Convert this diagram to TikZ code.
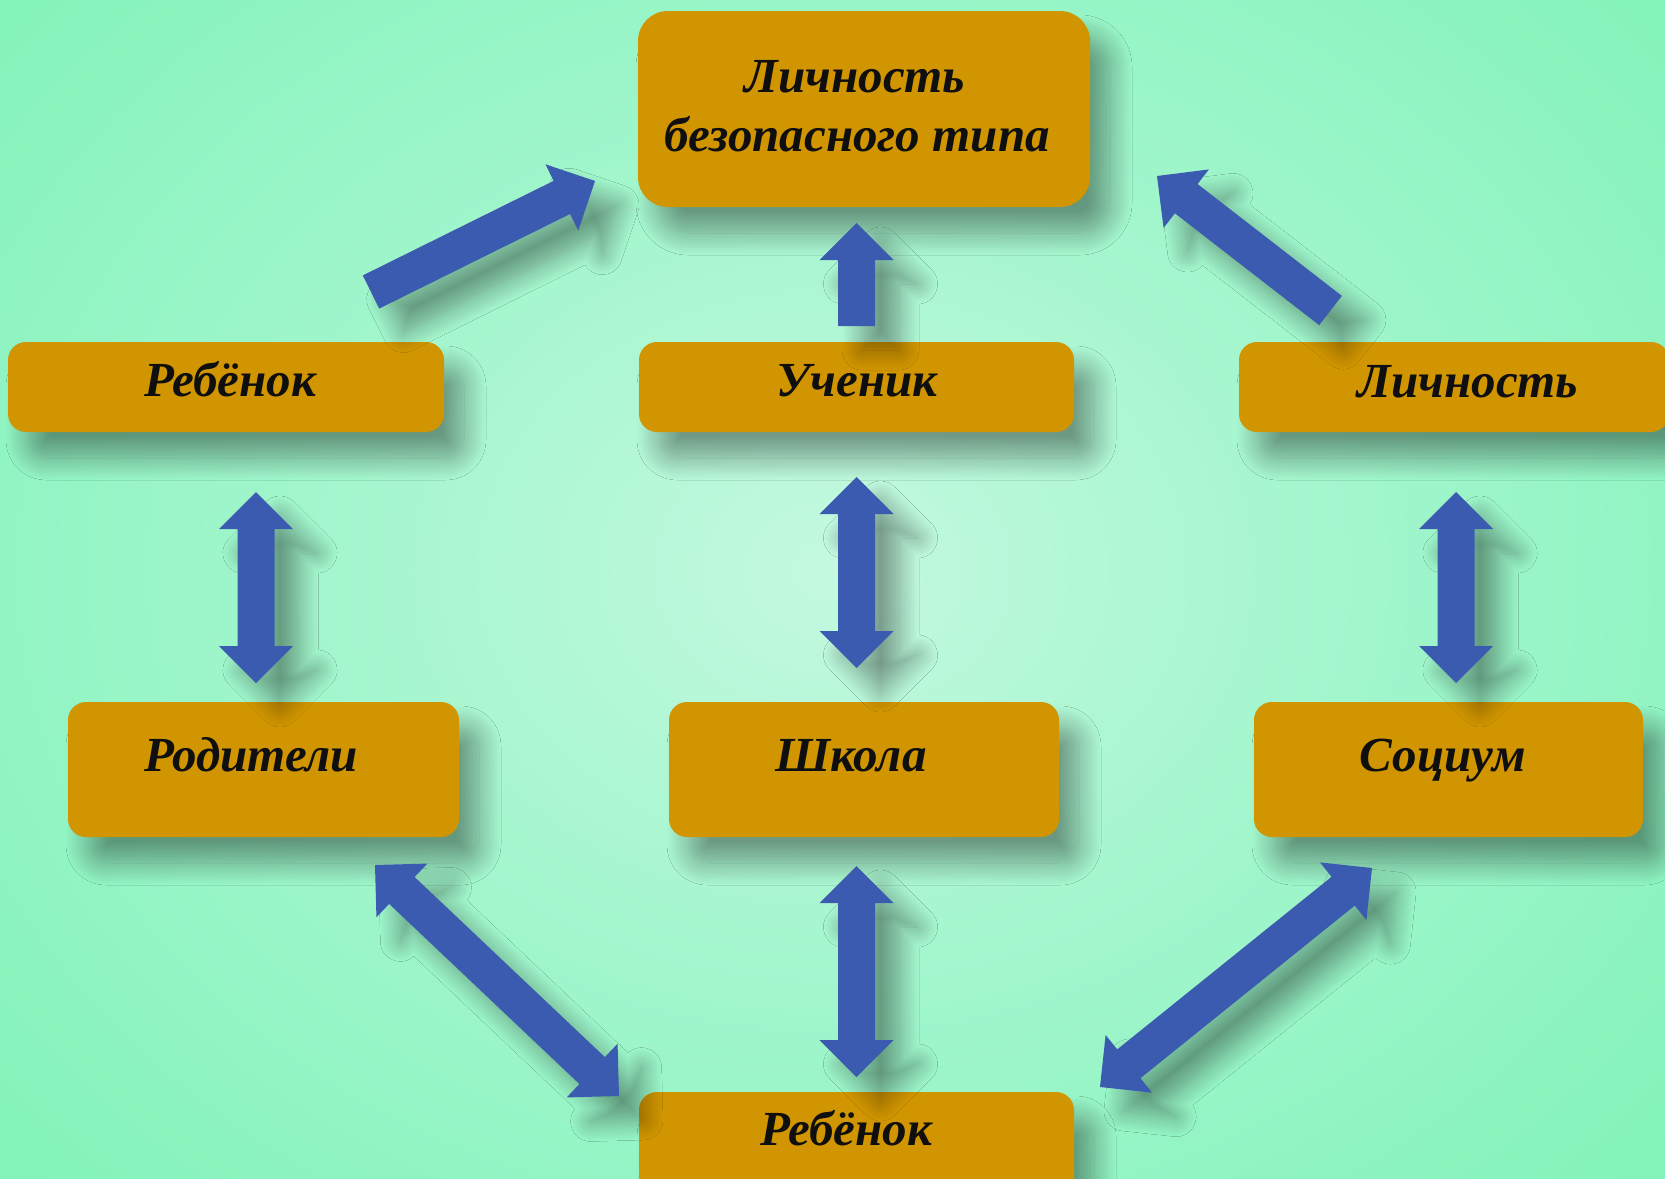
\documentclass[tikz,border=0pt]{standalone}
\usepackage{fontspec}
\setmainfont{Liberation Serif}
\usetikzlibrary{calc,shadows.blur}
\definecolor{boxc}{RGB}{208,149,0}
\definecolor{arrc}{RGB}{58,91,176}
\definecolor{bgin}{RGB}{196,249,224}
\definecolor{bgmid}{RGB}{165,246,206}
\definecolor{bgout}{RGB}{122,242,182}
\definecolor{bgcorner}{RGB}{90,238,162}
\definecolor{txt}{RGB}{15,15,15}
\pgfdeclareradialshading{bgshade}{\pgfpoint{0bp}{0bp}}{color(0bp)=(bgin); color(14bp)=(bgmid); color(38bp)=(bgout); color(62bp)=(bgcorner); color(72bp)=(bgcorner)}
\newcommand\blkarrow[2]{%
  \path ($(#2)!37pt!(#1)$) coordinate (hb);
  \fill[arr] ($(#1)!18.5pt!90:(#2)$) -- ($(hb)!18.5pt!-90:(#1)$) -- ($(hb)!37pt!-90:(#1)$) -- (#2)
    -- ($(hb)!37pt!90:(#1)$) -- ($(hb)!18.5pt!90:(#1)$) -- ($(#1)!18.5pt!-90:(#2)$) -- cycle;}
\newcommand\dblarrow[2]{%
  \path ($(#1)!37pt!(#2)$) coordinate (ha) ($(#2)!37pt!(#1)$) coordinate (hb);
  \fill[arr] (#1) -- ($(ha)!37pt!90:(#2)$) -- ($(ha)!18.5pt!90:(#2)$) -- ($(hb)!18.5pt!-90:(#1)$)
    -- ($(hb)!37pt!-90:(#1)$) -- (#2) -- ($(hb)!37pt!90:(#1)$) -- ($(hb)!18.5pt!90:(#1)$)
    -- ($(ha)!18.5pt!-90:(#2)$) -- ($(ha)!37pt!-90:(#2)$) -- cycle;}
\begin{document}
\begin{tikzpicture}[x=1pt,y=-1pt,
  box/.style={fill=boxc, draw=none, inner sep=0pt, rounded corners=18pt,
    blur shadow={shadow xshift=20pt, shadow yshift=-26pt, shadow blur radius=22pt, shadow blur steps=24, shadow opacity=38}},
  lbl/.style={font=\fontsize{49}{59}\selectfont\bfseries\itshape, anchor=base, inner sep=0pt, text=txt},
  arr/.style={fill=arrc, blur shadow={shadow xshift=24pt, shadow yshift=-24pt, shadow blur radius=20pt, shadow blur steps=24, shadow opacity=38}}]
\useasboundingbox (0,0) rectangle (1665,1178);
\clip (0,0) rectangle (1665,1178);
\shade[shading=bgshade] (-10,-100) rectangle (1675,1240);
% boxes
\node[box, rounded corners=30pt, minimum width=452pt, minimum height=196pt] (top) at (864,109) {};
\node[box, minimum width=436pt, minimum height=90pt] (reb1) at (226,387) {};
\node[box, minimum width=435pt, minimum height=90pt] (uch) at (856.5,387) {};
\node[box, minimum width=430pt, minimum height=90pt] (lich) at (1454,387) {};
\node[box, minimum width=391pt, minimum height=135pt] (rod) at (263.5,769.5) {};
\node[box, minimum width=390pt, minimum height=135pt] (shk) at (864,769.5) {};
\node[box, minimum width=389pt, minimum height=135pt] (soc) at (1448.5,769.5) {};
\node[box, minimum width=435pt, minimum height=110pt] (reb2) at (856.5,1147) {};
% texts
\node[lbl] (top-t1) at (855,92) {Личность};
\node[lbl] (top-t2) at (857,151) {безопасного типа};
\node[lbl] (reb1-t) at (230,396) {Ребёнок};
\node[lbl] (uch-t) at (857,396) {Ученик};
\node[lbl] (lich-t) at (1468,397) {Личность};
\node[lbl] (rod-t) at (251,771) {Родители};
\node[lbl] (shk-t) at (851,771) {Школа};
\node[lbl] (soc-t) at (1443,771) {Социум};
\node[lbl] (reb2-t) at (846,1145) {Ребёнок};
% arrow end points
\coordinate (a1s) at (371,292);   \coordinate (a1e) at (595,181);
\coordinate (a2s) at (856.5,326); \coordinate (a2e) at (856.5,223);
\coordinate (a3s) at (1330.5,310.5); \coordinate (a3e) at (1157,176);
\coordinate (a4s) at (856.5,477); \coordinate (a4e) at (856.5,668);
\coordinate (a5s) at (256,492);   \coordinate (a5e) at (256,683);
\coordinate (a6s) at (1456,492);  \coordinate (a6e) at (1456,683);
\coordinate (a7s) at (856.5,866); \coordinate (a7e) at (856.5,1077);
\coordinate (a8s) at (375,865);   \coordinate (a8e) at (619,1096);
\coordinate (a9s) at (1372,868);  \coordinate (a9e) at (1100,1087);
% arrows
\blkarrow{a1s}{a1e}
\blkarrow{a2s}{a2e}
\blkarrow{a3s}{a3e}
\dblarrow{a4s}{a4e}
\dblarrow{a5s}{a5e}
\dblarrow{a6s}{a6e}
\dblarrow{a7s}{a7e}
\dblarrow{a8s}{a8e}
\dblarrow{a9s}{a9e}
\end{tikzpicture}
\end{document}
